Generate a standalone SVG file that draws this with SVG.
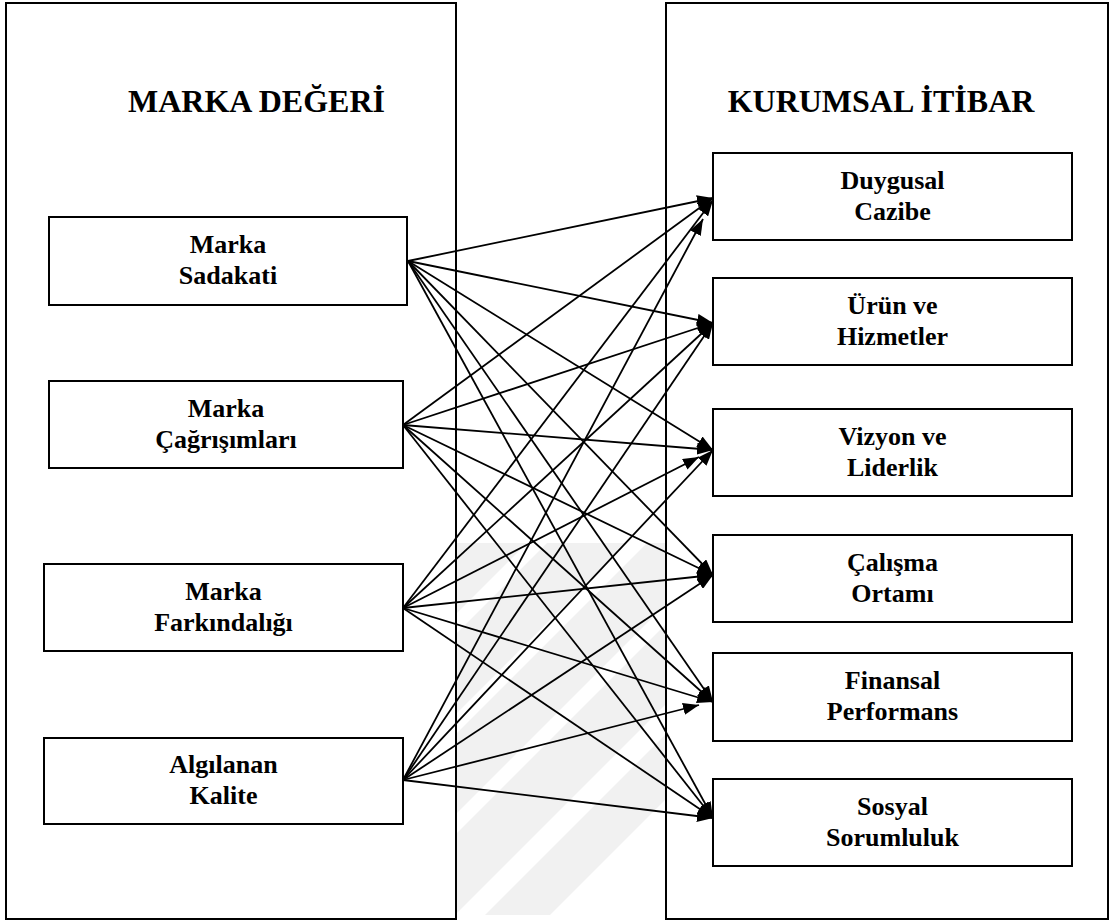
<svg xmlns="http://www.w3.org/2000/svg" width="1111" height="922" viewBox="0 0 1111 922">
  <style>
    .frame { fill: #ffffff; stroke: #000000; stroke-width: 2; }
    .node rect { fill: #ffffff; stroke: #000000; stroke-width: 2; }
    .title { font-family: "Liberation Serif", "Times New Roman", serif; font-weight: bold; font-size: 32px; fill: #000000; text-anchor: middle; }
    .label { font-family: "Liberation Serif", "Times New Roman", serif; font-weight: bold; font-size: 26px; fill: #000000; text-anchor: middle; }
    .links line { stroke: #000000; stroke-width: 1.8; marker-end: url(#arrow); }
    .wm { fill: #f1f1f1; }
  </style>
  <defs>
    <marker id="arrow" markerUnits="userSpaceOnUse" markerWidth="16" markerHeight="12" refX="16" refY="6" orient="auto">
      <path d="M0,0 L16,6 L0,12 z" fill="#000000"/>
    </marker>
    <clipPath id="wmClip">
      <rect x="440" y="543" width="240" height="372" rx="12"/>
    </clipPath>
  </defs>

  <rect width="1111" height="922" fill="#ffffff"/>

  <!-- faint striped background mark between the two panels -->
  <g id="background-mark" clip-path="url(#wmClip)">
    <polygon class="wm" points="857,543 922,543 550,915 485,915"/>
    <polygon class="wm" points="747,543 827,543 455,915 375,915"/>
    <polygon class="wm" points="647,543 727,543 355,915 275,915"/>
    <polygon class="wm" points="547,543 627,543 255,915 175,915"/>
    <polygon class="wm" points="447,543 527,543 155,915 75,915"/>
    <polygon class="wm" points="347,543 427,543 55,915 -25,915"/>
  </g>

  <!-- outer panels -->
  <g id="panel-marka-degeri">
    <rect class="frame" x="6" y="3" width="450" height="916"/>
    <text class="title" x="256.5" y="112">MARKA DEĞERİ</text>
  </g>
  <g id="panel-kurumsal-itibar">
    <rect class="frame" x="666" y="3" width="442" height="916"/>
    <text class="title" x="881" y="112">KURUMSAL İTİBAR</text>
  </g>

  <!-- brand equity dimensions -->
  <g id="marka-sadakati" class="node">
    <rect x="49" y="217" width="358" height="88"/>
    <text class="label" x="228" y="253">Marka</text>
    <text class="label" x="228" y="284">Sadakati</text>
  </g>
  <g id="marka-cagrisimlari" class="node">
    <rect x="49" y="381" width="354" height="87"/>
    <text class="label" x="226" y="417">Marka</text>
    <text class="label" x="226" y="448">Çağrışımları</text>
  </g>
  <g id="marka-farkindaligi" class="node">
    <rect x="44" y="564" width="359" height="87"/>
    <text class="label" x="223.5" y="600">Marka</text>
    <text class="label" x="223.5" y="631">Farkındalığı</text>
  </g>
  <g id="algilanan-kalite" class="node">
    <rect x="44" y="738" width="359" height="86"/>
    <text class="label" x="223.5" y="773">Algılanan</text>
    <text class="label" x="223.5" y="804">Kalite</text>
  </g>

  <!-- corporate reputation dimensions -->
  <g id="duygusal-cazibe" class="node">
    <rect x="713" y="153" width="359" height="87"/>
    <text class="label" x="892.5" y="189">Duygusal</text>
    <text class="label" x="892.5" y="220">Cazibe</text>
  </g>
  <g id="urun-ve-hizmetler" class="node">
    <rect x="713" y="278" width="359" height="87"/>
    <text class="label" x="892.5" y="314">Ürün ve</text>
    <text class="label" x="892.5" y="345">Hizmetler</text>
  </g>
  <g id="vizyon-ve-liderlik" class="node">
    <rect x="713" y="409" width="359" height="87"/>
    <text class="label" x="892.5" y="445">Vizyon ve</text>
    <text class="label" x="892.5" y="476">Liderlik</text>
  </g>
  <g id="calisma-ortami" class="node">
    <rect x="713" y="535" width="359" height="87"/>
    <text class="label" x="892.5" y="571">Çalışma</text>
    <text class="label" x="892.5" y="602">Ortamı</text>
  </g>
  <g id="finansal-performans" class="node">
    <rect x="713" y="653" width="359" height="88"/>
    <text class="label" x="892.5" y="689">Finansal</text>
    <text class="label" x="892.5" y="720">Performans</text>
  </g>
  <g id="sosyal-sorumluluk" class="node">
    <rect x="713" y="779" width="359" height="87"/>
    <text class="label" x="892.5" y="815">Sosyal</text>
    <text class="label" x="892.5" y="846">Sorumluluk</text>
  </g>

  <!-- every brand equity dimension points to every reputation dimension -->
  <g id="connectors" class="links">
    <line x1="408" y1="261" x2="713" y2="198"/>
    <line x1="408" y1="261" x2="713" y2="323"/>
    <line x1="408" y1="261" x2="713" y2="450"/>
    <line x1="408" y1="261" x2="713" y2="575"/>
    <line x1="408" y1="261" x2="713" y2="702"/>
    <line x1="408" y1="261" x2="713" y2="818"/>

    <line x1="403" y1="425" x2="713" y2="198"/>
    <line x1="403" y1="425" x2="713" y2="323"/>
    <line x1="403" y1="425" x2="713" y2="450"/>
    <line x1="403" y1="425" x2="713" y2="575"/>
    <line x1="403" y1="425" x2="713" y2="702"/>
    <line x1="403" y1="425" x2="713" y2="818"/>

    <line x1="403" y1="608" x2="713" y2="200"/>
    <line x1="403" y1="608" x2="713" y2="323"/>
    <line x1="403" y1="608" x2="699" y2="457"/>
    <line x1="403" y1="608" x2="713" y2="575"/>
    <line x1="403" y1="608" x2="713" y2="702"/>
    <line x1="403" y1="608" x2="713" y2="818"/>

    <line x1="403" y1="780" x2="703" y2="219"/>
    <line x1="403" y1="780" x2="713" y2="323"/>
    <line x1="403" y1="780" x2="713" y2="450"/>
    <line x1="403" y1="780" x2="713" y2="575"/>
    <line x1="403" y1="780" x2="699" y2="705"/>
    <line x1="403" y1="780" x2="713" y2="818"/>
  </g>
</svg>
